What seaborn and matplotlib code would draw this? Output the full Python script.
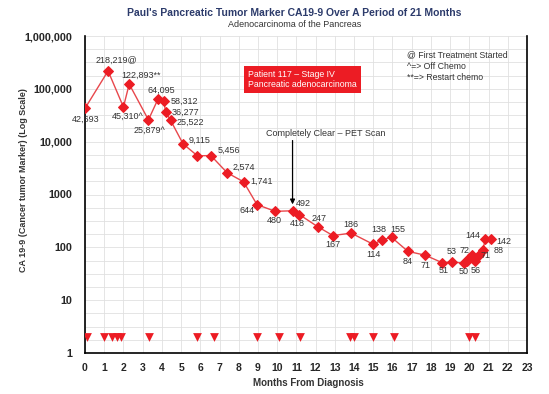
import numpy as np
import pandas as pd
import matplotlib
matplotlib.use("Agg")
import matplotlib.pyplot as plt
import matplotlib.ticker as mticker
import seaborn as sns

# CA19-9 readings (months from diagnosis, value, label)
months = [0.0, 1.2, 2.0, 2.3, 3.3, 3.8, 4.1, 4.2, 4.45, 5.1, 5.85, 6.55, 7.4, 8.25,
          8.95, 9.9, 10.8, 11.15, 12.1, 12.9, 13.85, 15.0, 15.45, 15.95, 16.8, 17.7,
          18.6, 19.1, 19.7, 19.88, 20.0, 20.14, 20.3, 20.5, 20.7, 20.83, 21.13]
ca199 = [42693, 218219, 45310, 122893, 25879, 64095, 58312, 36277, 25522, 9115, 5400,
         5456, 2574, 1741, 644, 480, 492, 418, 247, 167, 186, 114, 138, 155, 84, 71,
         51, 53, 50, 55, 62, 72, 56, 71, 88, 144, 142]
labels = ["42,693", "218,219@", "45,310^", "122,893**", "25,879^", "64,095", "58,312",
          "36,277", "25,522", "9,115", "", "5,456", "2,574", "1,741", "644", "480",
          "492", "418", "247", "167", "186", "114", "138", "155", "84", "71", "51",
          "53", "50", "", "", "72", "56", "71", "88", "144", "142"]

# treatment markers (plotted along the bottom)
treat_months = [0.12, 1.0, 1.42, 1.68, 1.86, 3.35, 5.85, 6.73, 8.94, 10.12, 11.2,
                13.8, 14.0, 14.98, 16.1, 19.96, 20.27]
treat_level = 2

ytick_vals = [1, 10, 100, 1000, 10000, 100000, 1000000]
ytick_labels = ["1", "10", "100", "1000", "10,000", "100,000", "1,000,000"]

# label placement: (dx, dy) in pixels from the marker, dy positive = down
label_offsets = [(1, 11), (8, -11), (4, 9), (12, -9), (1, 10), (3, -9), (21, 0),
                 (20, 0), (20, 2), (17, -3), (0, 0), (18, -5), (17, -5), (18, 0),
                 (-10, 6), (-1, 9), (11, -7), (-2, 9), (2, -8), (0, 9), (0, -9),
                 (0, 10), (-3, -10), (6, -8), (0, 10), (0, 10), (1, 8), (0, -10),
                 (0, 8), (0, 0), (0, 0), (-8, -4), (1, 10), (7, 0), (16, 0),
                 (-12, -3), (13, 2)]

RED = "#ec1c24"
LINE = "#e8474c"
NAVY = "#2c3b6b"
TXT = "#333333"

df = pd.DataFrame({"month": months, "ca199": ca199})
treat = pd.DataFrame({"month": treat_months, "level": [treat_level] * len(treat_months)})

sns.set_style("white")
plt.rcParams["font.family"] = ["Liberation Sans", "DejaVu Sans"]

fig = plt.figure(figsize=(5.49, 3.94), dpi=100)
ax = fig.add_axes([85 / 549, 41 / 394, 442 / 549, 317 / 394])

sns.lineplot(data=df, x="month", y="ca199", ax=ax, color=LINE, lw=1.0,
             marker="D", markersize=5, markerfacecolor=RED, markeredgecolor=RED,
             estimator=None, sort=False, zorder=3)
sns.scatterplot(data=treat, x="month", y="level", ax=ax, marker="v", s=40,
                color=RED, edgecolor=RED, linewidth=0, zorder=3)

ax.set_yscale("log")
ax.set_xlim(0, 23)
ax.set_ylim(1, 1e6)

ax.set_xticks(range(0, 24))
ax.set_xticklabels([str(i) for i in range(24)], fontsize=7.5, fontweight="bold")
ax.set_yticks(ytick_vals)
ax.set_yticklabels(ytick_labels, fontsize=7.8, fontweight="bold")
minor = [10 ** (d + f) for d in range(6) for f in (0.25, 0.5, 0.75)]
ax.yaxis.set_minor_locator(mticker.FixedLocator(minor))
ax.yaxis.set_minor_formatter(mticker.NullFormatter())
ax.tick_params(axis="y", which="major", length=8, width=1, direction="out", pad=1)
ax.tick_params(axis="y", which="minor", length=0)
ax.tick_params(axis="x", which="major", length=3, width=1, direction="out", pad=4)

ax.grid(True, which="major", color="#e0e0e0", lw=0.6)
ax.grid(True, which="minor", axis="y", color="#e0e0e0", lw=0.6)
ax.set_axisbelow(True)

for side in ["left", "bottom", "right"]:
    ax.spines[side].set_visible(True)
    ax.spines[side].set_color("black")
    ax.spines[side].set_linewidth(1.2)
ax.spines["top"].set_visible(False)

ax.set_xlabel("Months From Diagnosis", fontsize=7, fontweight="bold", color=TXT)
ax.xaxis.set_label_coords(0.505, -0.078)
ax.set_ylabel("CA 19-9 (Cancer tumor Marker) (Log Scale)", fontsize=6.5,
              fontweight="bold", color=TXT)
ax.yaxis.set_label_coords(-0.128, 0.546)

# point labels
for m, v, lab, (dx, dy) in zip(months, ca199, labels, label_offsets):
    if lab:
        ax.annotate(lab, (m, v), xytext=(dx * 0.72, -dy * 0.72),
                    textcoords="offset points", ha="center", va="center",
                    fontsize=6.5, color=TXT, zorder=4)

# PET scan note
ax.text(0.544, 0.694, "Completely Clear \u2013 PET Scan", transform=ax.transAxes,
        ha="center", va="center", fontsize=6.5, color=TXT)
ax.annotate("", xy=(10.8, 650), xytext=(10.8, 10500),
            arrowprops=dict(arrowstyle="-|>", color="black", lw=0.9,
                            mutation_scale=7, shrinkA=0, shrinkB=0))

# patient box
ax.text(0.369, 0.864, "Patient 117 \u2013 Stage IV\nPancreatic adenocarcinoma",
        transform=ax.transAxes, ha="left", va="center", fontsize=6.3, color="white",
        linespacing=1.15,
        bbox=dict(boxstyle="square,pad=0.45", facecolor=RED, edgecolor="none"))

# legend notes
notes = ["@ First Treatment Started", "^=> Off Chemo", "**=> Restart chemo"]
for i, t in enumerate(notes):
    ax.text(0.7285, 0.940 - i * 0.036, t, transform=ax.transAxes, ha="left",
            va="center", fontsize=6.3, color=TXT)

fig.text(0.536, 0.967, "Paul's Pancreatic Tumor Marker CA19-9 Over A Period of 21 Months",
         ha="center", va="center", fontsize=7.5, fontweight="bold", color=NAVY)
fig.text(0.536, 0.937, "Adenocarcinoma of the Pancreas", ha="center", va="center",
         fontsize=6.5, color=TXT)

fig.savefig("out.png", dpi=100)
